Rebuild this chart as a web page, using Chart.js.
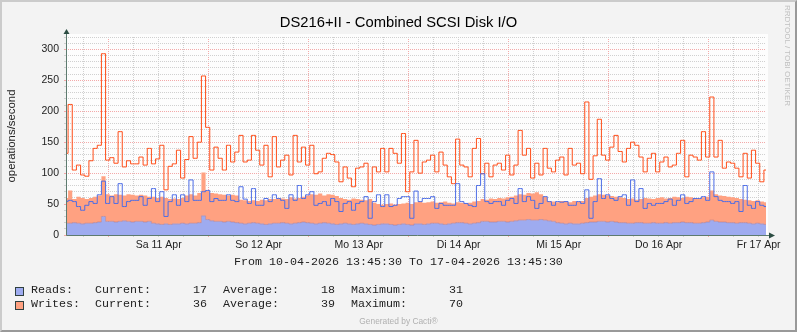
<!DOCTYPE html>
<html>
<head>
<meta charset="utf-8">
<title>DS216+II - Combined SCSI Disk I/O</title>
<script src="https://cdn.jsdelivr.net/npm/chart.js@4/dist/chart.umd.min.js"></script>
<style>
  html, body { margin: 0; padding: 0; background: #f3f3f3; }
  #graph { position: relative; width: 797px; height: 332px; overflow: hidden; font-family: "Liberation Sans", Arial, sans-serif; }
  #graph canvas { position: absolute; left: 0; top: 0; }
  .frame { position: absolute; left: 0; top: 0; width: 797px; height: 332px; box-sizing: border-box;
           border: 2px solid; border-color: #cbcbcb #999999 #999999 #cbcbcb; pointer-events: none; }
  .title { position: absolute; left: 0; width: 797px; top: 15px; text-align: center; font-size: 14.75px; line-height: 1; color: #000; }
  .vendor { position: absolute; left: 783px; top: 5px; writing-mode: vertical-rl; font-size: 8px; line-height: 1; color: #c0c0c0; }
  .mono { position: absolute; font-family: "Liberation Mono", "DejaVu Sans Mono", monospace; font-size: 11.67px; line-height: 1; color: #222; white-space: pre; }
  .range { left: 0; width: 797px; text-align: center; top: 257px; }
  .swatch { position: absolute; left: 15px; width: 7px; height: 7px; border: 1px solid #2f3f3f; }
  .footer { position: absolute; left: 0; width: 797px; top: 317px; text-align: center; font-size: 8.4px; line-height: 1; color: #b0b0b0; }
</style>
</head>
<body>
<div id="graph">
  <canvas id="io-chart" width="797" height="332"></canvas>
  <div class="title">DS216+II - Combined SCSI Disk I/O</div>
  <div class="vendor">RRDTOOL / TOBI OETIKER</div>
  <div class="mono range">From 10-04-2026 13:45:30 To 17-04-2026 13:45:30</div>

  <div class="swatch" style="top:287px; background:#9eabf0"></div>
  <div class="mono" style="left:31px; top:285px">Reads:</div>
  <div class="mono" style="left:95px; top:285px">Current:      17</div>
  <div class="mono" style="left:223px; top:285px">Average:      18</div>
  <div class="mono" style="left:351px; top:285px">Maximum:      31</div>

  <div class="swatch" style="top:301px; background:#ffa181"></div>
  <div class="mono" style="left:31px; top:299px">Writes:</div>
  <div class="mono" style="left:95px; top:299px">Current:      36</div>
  <div class="mono" style="left:223px; top:299px">Average:      39</div>
  <div class="mono" style="left:351px; top:299px">Maximum:      70</div>

  <div class="footer">Generated by Cacti®</div>
  <div class="frame"></div>
</div>

<script>
// one value per hour, 10-04-2026 13:45:30 .. 17-04-2026 13:45:30
const reads = [
  19,19,20,19,18,19,19,20,21,30,
  22,22,21,22,23,22,21,22,22,21,22,
  19,18,17,18,17,18,18,19,18,19,19,20,
  31,25,23,22,22,21,22,21,20,
  19,18,19,20,19,18,17,18,19,19,20,19,18,19,20,21,20,19,18,19,20,19,18,17,18,19,18,17,18,19,18,17,16,17,18,18,17,16,17,18,17,16,
  18,18,17,18,19,19,18,17,18,19,20,20,19,18,19,20,22,22,21,21,22,22,21,22,23,24,24,25,24,24,25,24,23,22,20,19,18,19,18,18,19,20,
  21,21,22,22,21,22,21,20,20,19,19,20,20,19,19,20,19,19,20,19,20,20,21,20,20,19,19,20,21,24,22,21,21,20,20,19,20,20,19,18,19,18,17
];
const writes = [
  41,53,38,43,42,39,41,42,43,65,
  44,42,45,43,41,44,44,42,43,43,40,
  43,42,45,42,41,41,40,41,46,47,45,48,
  70,47,45,45,44,44,42,44,44,
  38,38,36,36,36,39,39,40,39,41,39,39,43,40,40,41,44,47,47,48,44,47,47,46,42,39,39,42,40,38,38,41,36,33,31,32,34,33,33,33,35,34,
  35,36,35,35,35,33,35,37,34,32,33,32,32,34,35,35,36,35,38,37,38,37,40,40,41,42,41,43,43,45,41,38,32,32,33,36,36,34,37,36,36,40,
  41,43,44,43,43,41,41,41,40,39,40,37,38,41,40,38,41,42,39,41,42,41,39,42,41,41,40,41,41,48,44,43,42,42,41,41,38,37,37,37,37,36,36
];
// peak rates drawn as lines
const readsPeak = [
  54,56,54,46,40,48,54,51,65,87,
  51,62,51,83,46,54,56,56,62,48,
  59,75,54,70,30,54,65,48,65,54,
  89,56,56,70,72,54,59,56,56,65,56,54,
  78,58,51,75,48,48,59,54,65,59,
  56,43,65,56,80,59,65,70,48,51,
  54,48,59,54,38,51,54,40,51,54,
  62,27,54,65,46,65,46,48,59,62,62,27,
  71,54,59,59,62,43,51,48,48,48,
  83,54,51,48,46,80,99,54,51,54,
  54,48,56,59,51,75,54,62,56,43,
  51,62,54,48,54,53,54,48,48,54,51,73,
  27,54,91,59,65,59,56,62,65,48,
  89,54,75,43,51,48,51,51,54,58,
  48,56,65,51,54,59,59,62,56,102,
  62,56,54,54,51,54,38,80,48,43,54,48,46
];
const writesPeak = [
  132,211,105,113,97,95,120,140,145,293,
  121,125,116,167,110,120,115,115,126,113,
  140,115,123,145,73,111,115,137,92,122,
  159,124,150,257,174,105,142,124,105,145,118,134,
  161,118,121,161,137,113,145,94,159,110,
  121,129,97,161,118,142,113,145,99,102,
  124,132,130,118,86,110,92,78,108,110,
  116,70,110,102,140,102,140,132,116,164,70,102,
  153,100,118,121,129,102,134,113,94,83,
  155,113,110,94,140,156,99,116,94,113,
  116,105,129,97,113,169,129,140,92,116,
  97,140,108,102,121,126,97,140,113,116,99,215,
  90,128,187,129,121,142,161,135,118,140,
  150,145,126,102,124,132,102,118,126,110,
  113,132,153,94,129,126,121,167,126,223,
  126,153,108,118,116,108,94,132,92,137,116,86,105
];
const dayLabels = ['Sa 11 Apr', 'So 12 Apr', 'Mo 13 Apr', 'Di 14 Apr', 'Mi 15 Apr', 'Do 16 Apr', 'Fr 17 Apr'];

const SPAN_HOURS = 168;
const FIRST_MIDNIGHT = 10.2417;   // 11-04 00:00 in hours after the start
const MGRID = '#f3a9a9';
const GRID = '#d0d0d0';

const asPoints = arr => arr.map((v, i) => ({ x: i, y: v }));

// 6-hour grid from 10-04 18:00 on; every 4th one is midnight
const gridHours = [];
for (let h = FIRST_MIDNIGHT - 6; h <= SPAN_HOURS; h += 6) gridHours.push(h);
const hourIndex = h => Math.round((h - FIRST_MIDNIGHT) / 6);

const rrdFrame = {
  id: 'rrdFrame',
  beforeDraw(chart) {
    const { ctx, chartArea: a } = chart;
    ctx.save();
    ctx.fillStyle = '#fdfdfd';
    ctx.fillRect(a.left, a.top - 3, a.width + 2, a.height + 3);
    ctx.restore();
  },
  afterDraw(chart) {
    const { ctx, chartArea: a } = chart;
    const x0 = Math.round(a.left) + 0.5;
    const y0 = Math.round(a.bottom) + 0.5;
    ctx.save();
    ctx.strokeStyle = '#5d7b6f';
    ctx.lineWidth = 1;
    ctx.beginPath();
    ctx.moveTo(x0, y0);
    ctx.lineTo(x0, a.top - 4);
    ctx.moveTo(x0, y0);
    ctx.lineTo(a.right + 3, y0);
    ctx.stroke();
    ctx.fillStyle = '#2c4d43';
    ctx.beginPath();
    ctx.moveTo(x0, a.top - 8);
    ctx.lineTo(x0 - 3, a.top - 3);
    ctx.lineTo(x0 + 3, a.top - 3);
    ctx.closePath();
    ctx.fill();
    ctx.beginPath();
    ctx.moveTo(a.right + 9, y0);
    ctx.lineTo(a.right + 3, y0 - 3);
    ctx.lineTo(a.right + 3, y0 + 3);
    ctx.closePath();
    ctx.fill();
    ctx.restore();
  }
};

new Chart(document.getElementById('io-chart'), {
  type: 'line',
  data: {
    datasets: [
      {
        label: 'Reads',
        data: asPoints(reads),
        stack: 'io',
        order: 1,
        backgroundColor: '#9eabf0',
        borderColor: 'rgba(176, 120, 140, 0.55)',
        borderWidth: 1,
        fill: 'origin',
        stepped: 'middle',
        pointRadius: 0
      },
      {
        label: 'Writes',
        data: asPoints(writes),
        stack: 'io',
        order: 2,
        backgroundColor: '#ffa181',
        borderWidth: 0,
        fill: '-1',
        stepped: 'middle',
        pointRadius: 0
      },
      {
        label: 'Reads peak',
        data: asPoints(readsPeak),
        stack: 'readsPeak',
        order: -2,
        borderColor: '#4d6de6',
        borderWidth: 1,
        fill: false,
        stepped: 'middle',
        pointRadius: 0
      },
      {
        label: 'Writes peak',
        data: asPoints(writesPeak),
        stack: 'writesPeak',
        order: -1,
        borderColor: '#ff4d18',
        borderWidth: 1,
        fill: false,
        stepped: 'middle',
        pointRadius: 0
      }
    ]
  },
  options: {
    responsive: false,
    animation: false,
    devicePixelRatio: 1,
    layout: { padding: { left: 0, top: 37, right: 31, bottom: 0 } },
    plugins: {
      legend: { display: false },
      tooltip: { enabled: false },
      title: { display: false }
    },
    scales: {
      x: {
        type: 'linear',
        min: 0,
        max: SPAN_HOURS,
        afterBuildTicks: axis => { axis.ticks = gridHours.map(h => ({ value: h })); },
        afterFit: axis => { axis.height = 97; },
        ticks: {
          autoSkip: false,
          maxRotation: 0,
          padding: 2,
          color: '#222',
          font: { family: 'Liberation Sans', size: 10.5 },
          callback: value => {
            const k = hourIndex(value);
            return k % 4 === 2 ? dayLabels[(k - 2) / 4] : '';
          }
        },
        grid: {
          color: c => (hourIndex(c.tick.value) % 4 === 0 ? MGRID : GRID),
          drawTicks: true,
          tickLength: 2
        },
        border: { display: false, dash: [1, 1] }
      },
      y: {
        stacked: true,
        min: 0,
        max: 320,
        afterFit: axis => { axis.width = 66; },
        ticks: {
          stepSize: 10,
          autoSkip: false,
          padding: 5,
          color: '#222',
          font: { family: 'Liberation Sans', size: 10.5 },
          callback: v => (v % 50 === 0 ? v : '')
        },
        grid: {
          color: c => (c.tick.value % 50 === 0 ? MGRID : GRID),
          drawTicks: true,
          tickLength: 2
        },
        border: { display: false, dash: [1, 1] },
        title: {
          display: true,
          text: 'operations/second',
          color: '#222',
          font: { family: 'Liberation Sans', size: 11.4 },
          padding: { top: 5, bottom: 0 }
        }
      }
    }
  },
  plugins: [rrdFrame]
});
</script>
</body>
</html>
